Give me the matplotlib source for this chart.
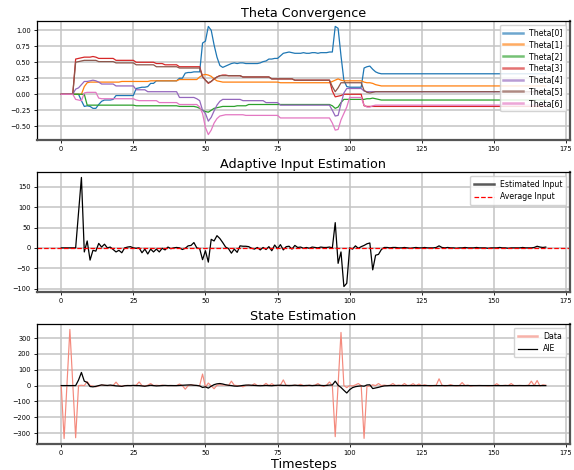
import numpy as np
import matplotlib
matplotlib.use("Agg")
import matplotlib.pyplot as plt

# ---------------- data ----------------
theta_labels = ["Theta[0]", "Theta[1]", "Theta[2]", "Theta[3]", "Theta[4]", "Theta[5]", "Theta[6]"]

theta0 = ([0.0]*7 + [-0.10, -0.19, -0.18, -0.19, -0.22, -0.22, -0.16, -0.11, -0.09, -0.09, -0.09, -0.08]
          + [-0.02]*7 + [0.09, 0.10, 0.11, 0.11, 0.12, 0.17, 0.17] + [0.21]*8
          + [0.25, 0.25, 0.33, 0.34, 0.34, 0.35, 0.35, 0.35]
          + [0.80, 0.83, 1.06, 1.00, 0.77, 0.58, 0.45, 0.42, 0.44, 0.46, 0.48, 0.49, 0.48, 0.49, 0.49]
          + [0.48]*5 + [0.49, 0.51, 0.52, 0.55, 0.55, 0.56, 0.56, 0.60, 0.64, 0.65, 0.66, 0.65, 0.64]
          + [0.64, 0.64, 0.65, 0.64, 0.64, 0.65, 0.65, 0.64, 0.65, 0.65] + [0.65, 0.66, 0.66]
          + [1.06, 1.03, 0.60, 0.22, 0.12] + [0.11]*5
          + [0.41, 0.43, 0.44, 0.39, 0.35, 0.33] + [0.32]*58)

theta1 = ([0.0]*8 + [0.12, 0.18] + [0.19]*11 + [0.20]*10 + [0.21]*10 + [0.23]*7
          + [0.27, 0.30, 0.31, 0.30, 0.28, 0.24, 0.21, 0.20] + [0.19]*20 + [0.18]*18
          + [0.20, 0.22, 0.24, 0.22] + [0.21]*7 + [0.19, 0.18, 0.18, 0.17, 0.15, 0.14] + [0.13]*58)

theta2 = ([0.0]*9 + [-0.17]*17 + [-0.18]*15 + [-0.19]*6
          + [-0.20, -0.22, -0.25, -0.27, -0.28, -0.25, -0.22, -0.21, -0.20] + [-0.19]*5 + [-0.18]*4
          + [-0.16]*29 + [-0.18, -0.22, -0.20, -0.13] + [-0.08]*8
          + [-0.07, -0.07, -0.06, -0.07, -0.08] + [-0.09]*58)

theta3 = ([0.0]*5 + [0.55, 0.56, 0.57, 0.58, 0.58, 0.58, 0.59, 0.58] + [0.56]*6 + [0.53]*7 + [0.50]*7
          + [0.48]*3 + [0.46]*5 + [0.43]*8
          + [0.28, 0.22, 0.17, 0.20, 0.24, 0.27, 0.29, 0.30, 0.30] + [0.29]*5 + [0.27]*10 + [0.24]*8
          + [0.22]*13 + [0.05, -0.04, -0.03, -0.02] + [0.0]*7 + [-0.18] + [-0.19]*63)

theta4 = ([0.0]*5 + [0.08, 0.10, 0.15, 0.20, 0.20, 0.21, 0.22, 0.21, 0.19] + [0.16]*5 + [0.13]*7
          + [0.07]*4 + [0.04]*11 + [-0.05]*6
          + [-0.07, -0.10, -0.25, -0.30, -0.42, -0.36, -0.26, -0.17, -0.11, -0.08] + [-0.08]*6
          + [-0.10]*8 + [-0.13]*5 + [-0.17]*18 + [-0.25, -0.34, -0.33, -0.15, 0.02] + [0.09]*6
          + [0.05] + [0.04]*63)

theta5 = ([0.0]*5 + [0.50, 0.51, 0.52] + [0.53]*5 + [0.51]*6 + [0.49]*7 + [0.46]*7 + [0.43]*8
          + [0.41]*8 + [0.27, 0.22, 0.18, 0.20, 0.24, 0.27, 0.29] + [0.29]*7 + [0.27]*10
          + [0.24]*8 + [0.22]*13 + [0.12, 0.04, 0.10, 0.18] + [0.18]*7
          + [0.06, 0.03, 0.02, 0.03] + [0.04]*60)

theta6 = ([0.0]*5 + [-0.08, -0.09, -0.10, 0.02] + [0.03]*4 + [-0.06] + [-0.07]*12 + [-0.09]
          + [-0.10]*7 + [-0.13]*7 + [-0.16]*7
          + [-0.20, -0.30, -0.52, -0.63, -0.56, -0.45, -0.38, -0.34, -0.33] + [-0.32]*7 + [-0.33]*12
          + [-0.37]*18 + [-0.45, -0.56, -0.55, -0.40, -0.30, -0.20] + [-0.05]*5
          + [-0.17, -0.20, -0.20, -0.18] + [-0.17]*60)

thetas = [theta0, theta1, theta2, theta3, theta4, theta5, theta6]

estimated_input = ([0]*6 + [85, 173, -10, 17, -30, -6, -8, 11, 2, 9, 0, 2, -4, -10, -6, -12, 0, 2, 3, 0,
                    -1, 0, -12, -3, -15, -3, -10, -3, -10, -1, -5, 2, -2, 0, 1, 0, -4, -1, 5, 6, 13,
                    0, -2, -29, -7, -35, 21, 17, 30, 23, 13, 2, -2, -13, -3, -11, 5, 4, 4, 3, -1, -3,
                    1, -5, 1, -4, 3, -7, 7, -2, 8, -5, 3, 4, -3, 6, 1, 2, -1, 1, -1, 2, 1, 0, 2, 1,
                    1, 2, 0, 62, -38, -10, -95, -87, 0, -3, 5, -1, 3, 6, 10, 12, -54, -18, -16, -4]
                   + [1, 1, 0, 1, 1, 0, 0, 1, 0, -1, 0, 1, 0, 0, 1, 0, 0, 0, 1, 5, 1, 0, 1, 0, 0, -1,
                      0, 0, 1, 0, 0, 0, 1, 0, 0, 0, -1, 0, 0, 0, 1, 0, 0, -1, 0, 0, 0, 0, 1, 0, 0, 0,
                      1, 4, 2, 1, 2])
average_input = 0.3

state_data = ([0, -335, 10, 355, 10, -330, 0, 2, 0, 25, 0, -3, -8, -2, 4, 2, 0, 1, 0, 22, 0, -4,
               0, 1, 0, 0, 2, 23, 0, -3, 2, 13, 0, 2, 0, 3, 0, 0, 1, 0, 0, 10, 0, -23, 0, 6, 2, 0,
               0, 73, -10, 16, -2, -20, 2, 6, 3, 5, 0, 28, 2, 0, 0, -8, 0, 3, 0, 12, 0, 2, 0, 14,
               0, 12, 0, 0, 3, 36, 0, 2, 0, 3, 0, 8, 0, -2, 3, 0, 2, 13, 0, -5, 3, 23, 0,
               -323, 5, 336, 0, -13, 0, -3, 4, 13, 0, -334, -4, -3, 5, 0, 13, 0, 3, 0, 2, 13, 0,
               3, 0, 13, 0, 2, 12, 0, 10, 0, 5, 0, -3, 0, 2, 43, 3, -3, 0, 6, 0, -2, 0, 19, 0, 3,
               -4, 0, 0, 1, 0, 0, -2, 0, 0, 12, 0, 0, 2, 0, 13, 0, 0, 1, 0, 0, 2, 28, 0, 32, -3,
               5, 2])

aie = ([0]*6 + [35, 83, 28, 20, -6, -8, -5, 0, 4, 2, 1, 3, 1, -2, -3, -5, -1, 0, 0, 1, 0, 0, -2,
                -4, -1, 2, 0, -2, -1, 0, 1, 0, 0, 0, 0, 1, 2, 3, 4, 4, 2, 1, -2, -12, -8, -16, -4,
                6, 11, 13, 10, 5, 2, 0, -3, -4, -2, 1, 3, 3, 2, 1, 0, -1, 0, 1, 0, -1, 1, 2,
                2, 1, 1, 0, 1, 2, 1, 0, 0, 1, 1, 0, 1, 2, 1, 0, 1, 3,
                4, 28, 2, -12, -30, -47, -26, -13, -7, -4, -2, -4, 4, 5, -19, -15, -11, -6, -2, -1]
       + [0]*55)

# ---------------- style ----------------
plt.rcParams['font.family'] = ['DejaVu Sans']
tick_fs = 4.8
leg_fs = 5.6
title_fs = 9.2
grid_kw = dict(color='#c4c4c4', linewidth=1.1)

fig = plt.figure(figsize=(5.74, 4.70), dpi=100)
W, H = 574.0, 470.0
left = 37 / W
width = 533 / W
ax1 = fig.add_axes([left, 1 - 140 / H, width, 119 / H])
ax2 = fig.add_axes([left, 1 - 292 / H, width, 120 / H])
ax3 = fig.add_axes([left, 1 - 444 / H, width, 120 / H])


def style(ax):
    ax.grid(True, **grid_kw)
    ax.set_axisbelow(True)
    ax.tick_params(labelsize=tick_fs, length=2.5, width=0.6, pad=2)
    for s in ['top', 'left']:
        ax.spines[s].set_linewidth(0.9)
        ax.spines[s].set_color('black')
    for s in ['bottom', 'right']:
        ax.spines[s].set_linewidth(1.6)
        ax.spines[s].set_color('#555555')
    ax.set_xticks([0, 25, 50, 75, 100, 125, 150, 175])


def thicken_legend(leg, skip=()):
    for i, ln in enumerate(leg.get_lines()):
        if i in skip:
            continue
        ln.set_linewidth(1.8)
        ln.set_alpha(0.65)


# Panel 1
for lab, series in zip(theta_labels, thetas):
    ax1.plot(np.arange(len(series)), series, lw=0.9, label=lab)
style(ax1)
ax1.set_title("Theta Convergence", fontsize=title_fs, pad=3)
leg1 = ax1.legend(loc='upper right', fontsize=leg_fs, handlelength=2.5, labelspacing=0.35,
                  borderpad=0.45, framealpha=0.85)
thicken_legend(leg1)

# Panel 2
ax2.plot(np.arange(len(estimated_input)), estimated_input, color='black', lw=0.9, label='Estimated Input')
ax2.axhline(average_input, color='red', ls='--', lw=0.9, label='Average Input')
style(ax2)
ax2.set_yticks([-100, -50, 0, 50, 100, 150])
ax2.set_title("Adaptive Input Estimation", fontsize=title_fs, pad=3)
leg2 = ax2.legend(loc='upper right', fontsize=leg_fs, handlelength=2.5, labelspacing=0.45,
                  borderpad=0.5, framealpha=0.85)
thicken_legend(leg2, skip=(1,))

# Panel 3
ax3.plot(np.arange(len(state_data)), state_data, color='#f4897c', lw=0.85, label='Data')
ax3.plot(np.arange(len(aie)), aie, color='black', lw=0.9, label='AIE')
style(ax3)
ax3.set_yticks([-300, -200, -100, 0, 100, 200, 300])
ax3.set_title("State Estimation", fontsize=title_fs, pad=3)
ax3.set_xlabel("Timesteps", fontsize=title_fs, labelpad=1)
leg3 = ax3.legend(loc='upper right', fontsize=leg_fs, handlelength=2.5, labelspacing=0.45,
                  borderpad=0.5, framealpha=0.85)
thicken_legend(leg3, skip=(1,))

fig.savefig("out.png", dpi=100)
